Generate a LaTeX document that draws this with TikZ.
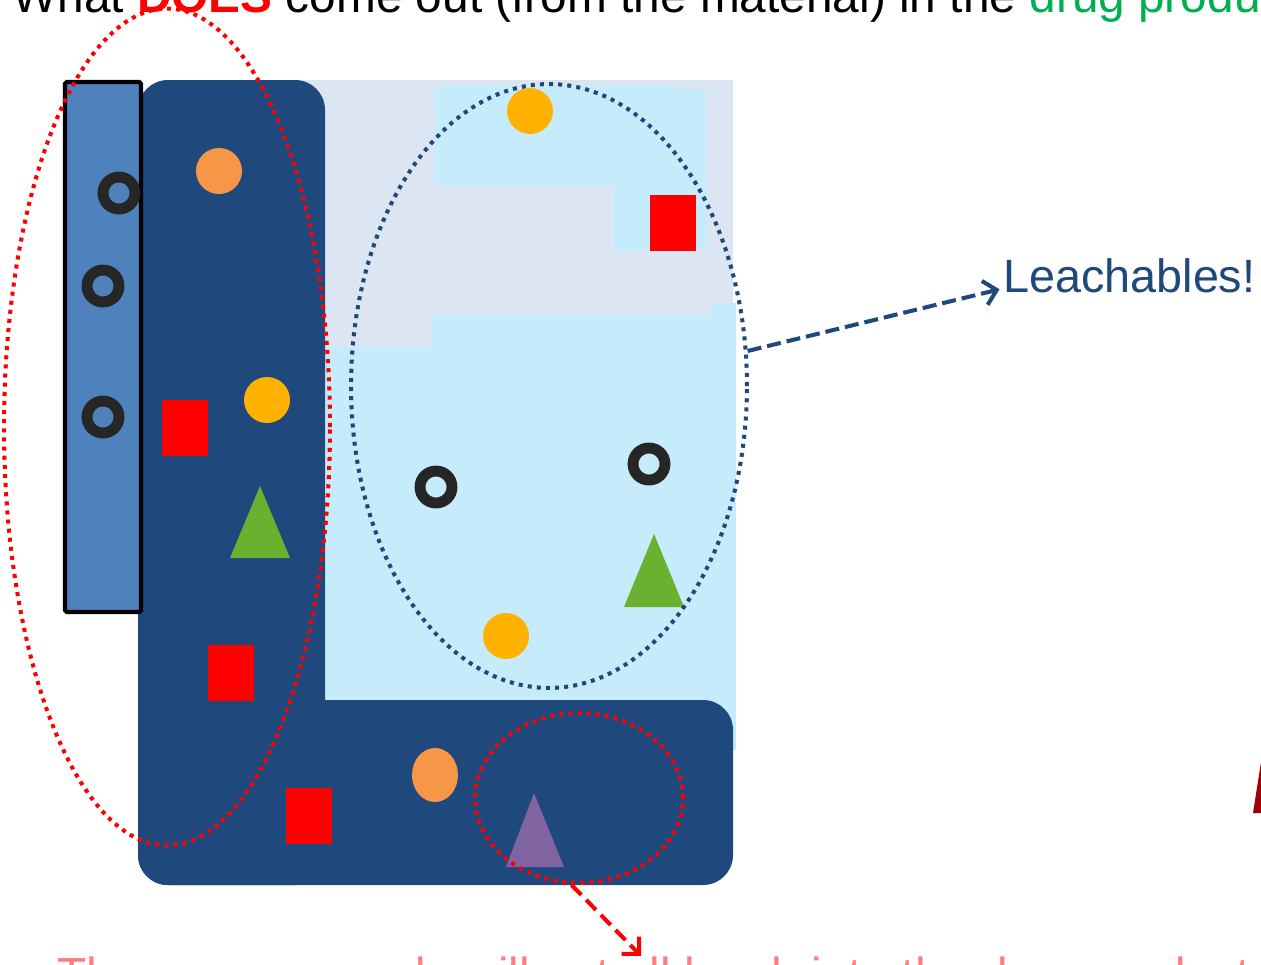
\documentclass[tikz,border=0pt]{standalone}
\usepackage{fontspec}
\setmainfont{Liberation Sans}
\usepackage{tikz}
\usetikzlibrary{arrows.meta,shapes.geometric}
\definecolor{lxNavy}{HTML}{1F497D}
\definecolor{lxBar}{HTML}{4F81BD}
\definecolor{lxHaze}{HTML}{DCE6F2}
\definecolor{lxLiquid}{HTML}{C6ECFC}
\definecolor{lxRing}{HTML}{262626}
\definecolor{lxRed}{HTML}{FF0000}
\definecolor{lxOrange}{HTML}{F79646}
\definecolor{lxAmber}{HTML}{FFB300}
\definecolor{lxGreen}{HTML}{6AB130}
\definecolor{lxPurple}{HTML}{8064A2}
\definecolor{lxTitleGreen}{HTML}{00B050}
\definecolor{lxSalmon}{HTML}{FF7C80}
\definecolor{lxDarkRed}{HTML}{A00000}
\tikzset{
  ringmark/.style={draw=lxRing,line width=6.2pt},
  redsq/.style={fill=lxRed},
  redloop/.style={ellipse,draw=lxRed,line width=2.3pt,
    dash pattern=on 2.3pt off 2.9pt,inner sep=0pt},
  blueloop/.style={ellipse,draw=lxNavy,line width=2.3pt,
    dash pattern=on 2.3pt off 2.9pt,inner sep=0pt},
  bigtext/.style={inner sep=0pt,anchor=base west,
    font=\fontsize{27.2}{32}\selectfont},
  arrn/.style={-{Straight Barb[length=7pt,width=14pt]},line width=2.3pt,
    dash pattern=on 8pt off 3.4pt,color=lxNavy},
  arrr/.style={-{Straight Barb[length=7pt,width=14pt]},line width=2.3pt,
    dash pattern=on 8pt off 4pt,color=lxRed},
}

\begin{document}
\begin{tikzpicture}[x=0.02cm,y=-0.02cm]
  \useasboundingbox (0,0) rectangle (1261,964);
  \clip (0,0) rectangle (1261,964);
  \fill[white] (0,0) rectangle (1261,964);

  % container: haze behind, liquid in front
  \fill[lxHaze] (300,80) rectangle (733,750);
  \fill[lxLiquid] (435,86) rectangle (680,186);
  \fill[lxLiquid] (680,89) rectangle (706,251);
  \fill[lxLiquid] (613,186) rectangle (706,251);
  \fill[lxLiquid] (325,347) -- (432,347) -- (432,315) -- (712,315)
    -- (712,303) -- (736,303) -- (736,750) -- (325,750) -- cycle;

  % material walls
  \fill[lxNavy,rounded corners=17pt] (138,80) rectangle (325,885);
  \fill[lxNavy,rounded corners=17pt] (138,700) rectangle (733,885);
  \draw[line width=2.3pt,fill=lxBar,rounded corners=1pt] (65,82) rectangle (141,612);

  % species
  \foreach \cx/\cy in {119/193,103/286,103/417,436/487,649/464}
    \draw[ringmark] (\cx,\cy) circle[radius=16];
  \foreach \lx/\ty in {650/195,162/400,208/645,286/788}
    \fill[redsq] (\lx,\ty) rectangle ++(46,56);
  \fill[lxOrange] (219,171) circle[radius=23];
  \fill[lxOrange] (435,775) ellipse[x radius=23,y radius=27];
  \foreach \cx/\cy in {530/111,267/400,506/636}
    \fill[lxAmber] (\cx,\cy) circle[radius=23];
  \fill[lxGreen] (260,486) -- (290,558) -- (230,558) -- cycle;
  \fill[lxGreen] (654,534) -- (684,607) -- (624,607) -- cycle;
  \fill[lxPurple] (534,793) -- (564,867) -- (506,867) -- cycle;

  % groupings
  \node[redloop,minimum width=6.52cm,minimum height=16.74cm] (extLeft) at (167,427) {};
  \node[blueloop,minimum width=7.92cm,minimum height=12.08cm] (leachEll) at (549,386) {};
  \node[redloop,minimum width=4.16cm,minimum height=3.4cm] (extCorner) at (579,798) {};

  \node[bigtext,font=\fontsize{26.6}{32}\selectfont,text=lxNavy] (leachTxt) at (1003,292) {Leachables!};
  \draw[arrn] (leachEll.10) -- ([xshift=-2pt,yshift=2pt]leachTxt.south west);

  \coordinate (extTip) at (641,956);
  \draw[arrr] (extCorner.-95) -- (extTip);

  \node[bigtext] (title) at (12,12)
    {What \textbf{\textcolor{lxRed}{DOES}} come out (from the material) in the \textcolor{lxTitleGreen}{drug product?}};
  \node[bigtext,text=lxSalmon] (note) at (57,991)
    {These compounds will not all leach into the drug product};

  \fill[lxDarkRed] (1262,756) -- (1253,813) -- (1270,813) -- cycle;
\end{tikzpicture}
\end{document}
